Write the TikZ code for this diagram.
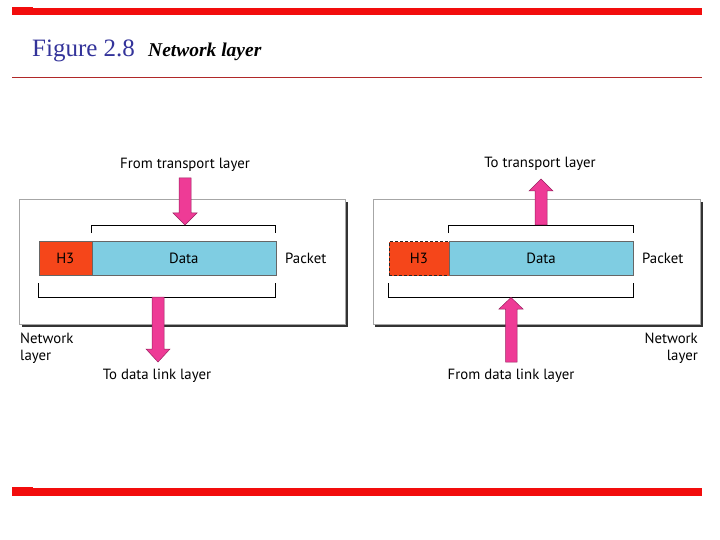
\documentclass[tikz,border=0pt]{standalone}
\usepackage{fontspec}
\setmainfont{Liberation Serif}
\newfontfamily\lblfont{PT Sans}
\usetikzlibrary{arrows.meta}
\definecolor{barred}{HTML}{F20D0D}
\definecolor{linered}{HTML}{B02828}
\definecolor{titleblue}{HTML}{33339A}
\definecolor{hdrorange}{HTML}{F5461A}
\definecolor{datablue}{HTML}{7FCDE2}
\definecolor{arrowpink}{HTML}{EE3B96}
\definecolor{arrowedge}{HTML}{9A2060}
\tikzset{
  x=1pt,y=-1pt,
  lbl/.style={font=\lblfont\fontsize{14.8}{17}\selectfont, inner sep=0pt},
  layerbox/.style={draw=gray!70, line width=0.8pt, fill=white},
  shadowbox/.style={fill=black!80, draw=none},
  hdr/.style={fill=hdrorange, draw=black!60, line width=0.6pt},
  hdrdash/.style={fill=hdrorange, draw=black!85, line width=1pt, dash pattern=on 3pt off 2pt},
  databox/.style={fill=datablue, draw=black!60, line width=0.6pt},
  bracket/.style={draw=black, line width=0.9pt},
  bigarrow/.style={draw=arrowedge, fill=arrowpink, line width=0.5pt},
}
\begin{document}
\begin{tikzpicture}
\useasboundingbox (0,0) rectangle (720,540);
% bars
\fill[barred] (12,8.5) rectangle (702,15.5);
\fill[barred] (12,7.5) rectangle (33,15.5);
\fill[barred] (12,488) rectangle (702,496);
\fill[barred] (12,487) rectangle (33,496);
\draw[linered, line width=1.6pt] (12,77.5) -- (702,77.5);
% title
\node[anchor=base west, inner sep=0pt, text=titleblue, font=\fontsize{25}{27}\selectfont] (fig) at (32,57) {Figure 2.8};
\node[anchor=base west, inner sep=0pt, font=\bfseries\itshape\fontsize{19.5}{21}\selectfont] (ttl) at (148,57) {Network layer};

% ===== left panel =====
\fill[shadowbox] (22,202) rectangle (348,327);
\node[layerbox, minimum width=326pt, minimum height=125pt, anchor=north west, inner sep=0pt] (L) at (19,199) {};
\draw[bracket] (91.5,233) -- (91.5,225.5) -- (275.5,225.5) -- (275.5,233);
\draw[bracket] (38.5,283) -- (38.5,297) -- (275.5,297) -- (275.5,283);
\node[hdr, minimum width=53pt, minimum height=34pt, anchor=north west, inner sep=0pt, lbl] (LH) at (38.5,241) {H3};
\node[databox, minimum width=184pt, minimum height=34pt, anchor=north west, inner sep=0pt, lbl] (LD) at (91.5,241) {Data};
\node[lbl, anchor=west] (LP) at (285,258) {Packet};
\node[lbl] (LT) at (185,164.5) {From transport layer};
\node[lbl] (LB) at (157,376) {To data link layer};
\node[lbl, anchor=base west] (LN1) at (20,343) {Network};
\node[lbl, anchor=base west] (LN2) at (20,360) {layer};
\draw[bigarrow] (179,178) -- (191,178) -- (191,213) -- (197,213) -- (185,225) -- (173,213) -- (179,213) -- cycle;
\draw[bigarrow] (152,297) -- (164,297) -- (164,349) -- (170,349) -- (158,362) -- (146,349) -- (152,349) -- cycle;

% ===== right panel =====
\fill[shadowbox] (375,202) rectangle (703,327);
\node[layerbox, minimum width=327pt, minimum height=125pt, anchor=north west, inner sep=0pt] (R) at (372.5,199) {};
\draw[bracket] (448.5,233) -- (448.5,225.5) -- (633,225.5) -- (633,233);
\draw[bracket] (388.5,283) -- (388.5,297) -- (633,297) -- (633,283);
\node[hdrdash, minimum width=60pt, minimum height=34pt, anchor=north west, inner sep=0pt, lbl] (RH) at (388.5,241) {H3};
\node[databox, minimum width=184.5pt, minimum height=34pt, anchor=north west, inner sep=0pt, lbl] (RD) at (448.5,241) {Data};
\node[lbl, anchor=west] (RP) at (642,258) {Packet};
\node[lbl] (RT) at (540,163.5) {To transport layer};
\node[lbl] (RB) at (511,376) {From data link layer};
\node[lbl, anchor=base east] (RN1) at (698,343) {Network};
\node[lbl, anchor=base east] (RN2) at (698,360) {layer};
\draw[bigarrow] (535,225) -- (547,225) -- (547,191) -- (553,191) -- (541,179) -- (529,191) -- (535,191) -- cycle;
\draw[bigarrow] (505.5,362) -- (517,362) -- (517,309) -- (523,309) -- (511,297.5) -- (499,309) -- (505.5,309) -- cycle;
\end{tikzpicture}
\end{document}
